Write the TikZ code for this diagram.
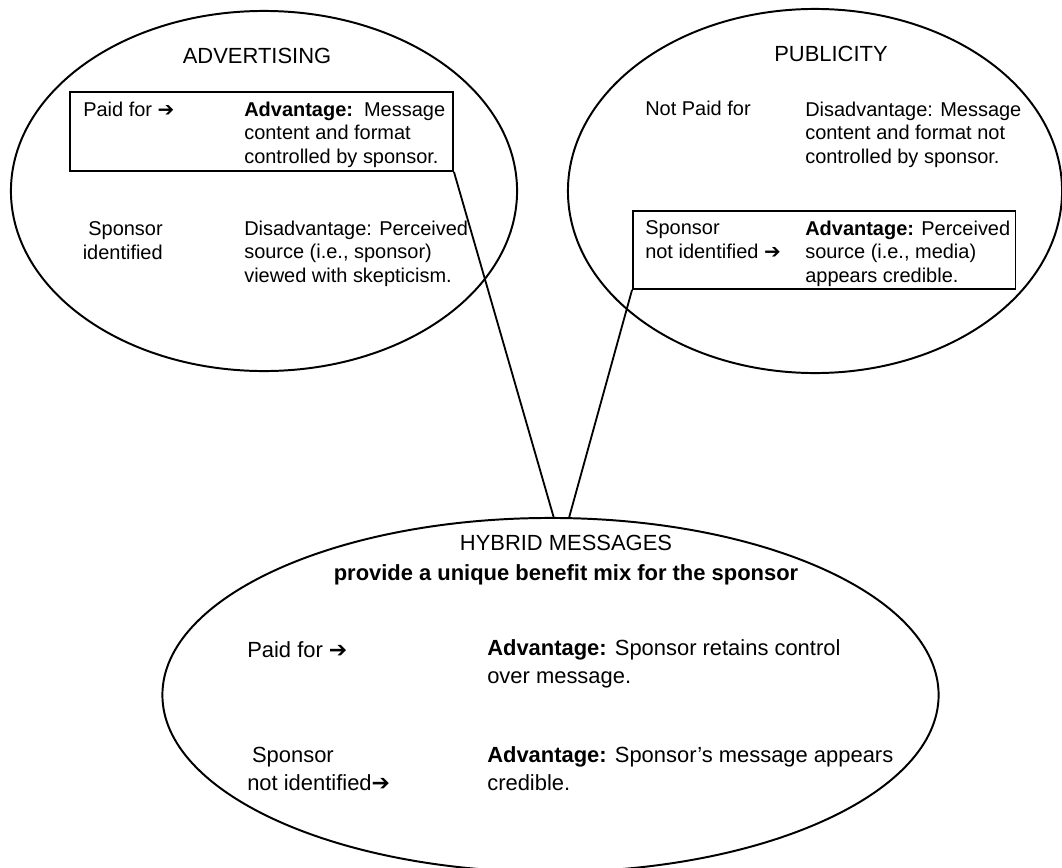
\documentclass[tikz,border=0pt]{standalone}
\usepackage{fontspec}
\setmainfont{Liberation Sans}
\newfontfamily\arrowfont{DejaVu Sans}
\newcommand{\rarr}{{\arrowfont ➔}}
\usetikzlibrary{positioning,shapes.geometric}

\begin{document}
\begin{tikzpicture}[x=0.025cm,y=-0.025cm,
    oval/.style={draw,ellipse,line width=1.4pt,inner sep=0pt},
    framebox/.style={draw,rectangle,line width=1.3pt,inner sep=0pt},
    link/.style={line width=1.3pt},
    title/.style={anchor=base,inner sep=0pt,font=\fontsize{15.6pt}{19pt}\selectfont},
    txt/.style={anchor=base west,inner sep=0pt,align=left,font=\fontsize{14.2pt}{16.7pt}\selectfont},
    htxt/.style={anchor=base west,inner sep=0pt,align=left,font=\fontsize{15.6pt}{19.9pt}\selectfont}]
  \useasboundingbox[fill=white] (0,0) rectangle (1062,867);

  % the three ovals
  \node[oval,minimum width=12.65cm,minimum height=9cm] (adv) at (264,191) {};
  \node[oval,minimum width=12.35cm,minimum height=9.1cm] (pub) at (815,191) {};
  \node[oval,minimum width=19.4cm,minimum height=8.85cm] (hyb) at (550.5,695) {};

  % framed rows
  \node[framebox,minimum width=9.575cm,minimum height=1.975cm] (advbox) at (261.5,131.5) {};
  \node[framebox,minimum width=9.5625cm,minimum height=1.95cm] (pubbox) at (824.25,250) {};

  % advertising (multi-line nodes sit on their last baseline)
  \node[title] (advtitle) at (257,63) {ADVERTISING};
  \node[txt] (advpaid) at (83,116) {Paid for \rarr};
  \node[txt,anchor=base east,align=right] (advsp) at (163,259) {Sponsor\\identified};
  \node[txt] (advplus) at (244,163)
    {\textbf{Advantage:}\ \ Message\\content and format\\controlled by sponsor.};
  \node[txt] (advminus) at (244,282)
    {Disadvantage: Perceived\\source (i.e., sponsor)\\viewed with skepticism.};

  % publicity
  \node[title] (pubtitle) at (831,62) {PUBLICITY};
  \node[txt] (pubpaid) at (645,115) {Not Paid for};
  \node[txt] (pubsp) at (645,258) {Sponsor\\not identified \rarr};
  \node[txt] (pubminus) at (805,163)
    {Disadvantage: Message\\content and format not\\controlled by sponsor.};
  \node[txt] (pubplus) at (805,282)
    {\textbf{Advantage:} Perceived\\source (i.e., media)\\appears credible.};

  % hybrid messages
  \node[title] (hybtitle) at (566,550) {HYBRID MESSAGES};
  \node[title,font=\fontsize{15.6pt}{19pt}\selectfont\bfseries] (hybsub) at (566,580)
    {provide a unique benefit mix for the sponsor};
  \node[htxt] (hybpaid) at (247,657) {Paid for \rarr};
  \node[htxt] (hybsp) at (247,790) {\hspace*{0.12cm}Sponsor\\not identified\rarr};
  \node[htxt] (hybplus) at (487,683)
    {\textbf{Advantage:} Sponsor retains control\\over message.};
  \node[htxt] (hybplus2) at (487,790)
    {\textbf{Advantage:} Sponsor's message appears\\credible.};

  % connectors
  \draw[link] (advbox.south east) -- (hyb.89.5);
  \draw[link] (pubbox.south west) -- (hyb.84.7);
\end{tikzpicture}
\end{document}
